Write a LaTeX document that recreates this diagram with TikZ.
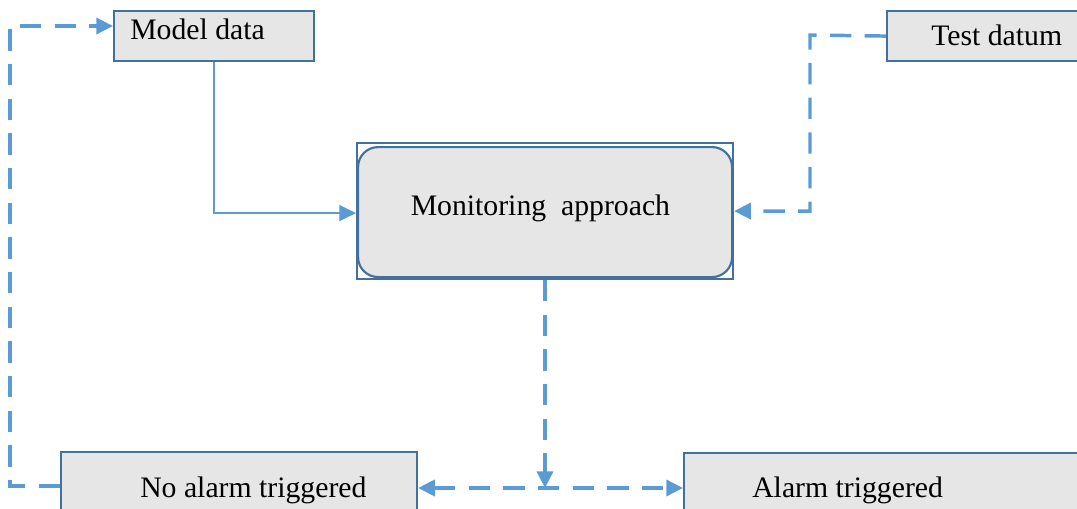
\documentclass[tikz,border=0pt]{standalone}
\usepackage{fontspec}
\setmainfont{Liberation Serif}
\usetikzlibrary{arrows.meta,calc}
\definecolor{boxline}{HTML}{41719C}
\definecolor{boxfill}{HTML}{E6E6E6}
\definecolor{link}{HTML}{5B9BD5}
\tikzset{
  box/.style={draw=boxline, fill=boxfill, line width=1.6pt, inner sep=0pt, anchor=north west},
  label/.style={inner sep=0pt, anchor=base west, font=\fontsize{22.3}{27}\selectfont},
  tip/.style={-{Triangle[length=12.5pt,width=12pt]}},
  dashlink/.style={draw=link, line width=2.6pt, dash pattern=on 16pt off 10pt, tip},
  thinlink/.style={draw=link, line width=0.9pt, tip},
}
\begin{document}
\begin{tikzpicture}[x=0.75pt,y=-0.75pt]
\useasboundingbox (0,0) rectangle (1077,508);
\clip (0,0) rectangle (1077,508);

% boxes
\node[box, minimum width=200*0.75pt, minimum height=50*0.75pt] (md) at (113,10) {};
\node[label] (mdt) at (130,39.5) {Model data};

\node[box, minimum width=204*0.75pt, minimum height=50*0.75pt] (td) at (886,10) {};
\node[label] (tdt) at (931,45) {Test datum};

\node[draw=boxline, line width=1.6pt, inner sep=0pt, anchor=north west,
      minimum width=376*0.75pt, minimum height=136*0.75pt] (ma) at (356,142) {};
\node[box, rounded corners=15pt, minimum width=374*0.75pt, minimum height=130*0.75pt] (mai) at (357,146) {};
\node[label] (mat) at (410.5,215) {Monitoring\hspace{0.5em}approach};

\node[box, minimum width=356*0.75pt, minimum height=80*0.75pt] (na) at (60,451) {};
\node[label] (nat) at (140,497) {No alarm triggered};

\node[box, minimum width=410*0.75pt, minimum height=80*0.75pt] (al) at (683,452) {};
\node[label] (alt) at (752,497) {Alarm triggered};

% connectors
\coordinate (j) at (545,488);
\coordinate (lt) at (10,26);
\coordinate (lb) at (10,486);
\coordinate (rt) at (810,35);

\draw[thinlink] (md.south) |- ($(ma.west)+(0,2)$);
\draw[dashlink] (td.west) -- (rt) |- (ma.east);
\draw[dashlink] (ma.south -| j) -- (j);
\draw[dashlink, {Triangle[length=12.5pt,width=12pt]}-{Triangle[length=12.5pt,width=12pt]}]
  (na.east |- j) -- (al.west |- j);
\draw[dashlink] (na.west |- lb) -- (lb) -- (lt) -- (md.west |- lt);
\end{tikzpicture}
\end{document}
